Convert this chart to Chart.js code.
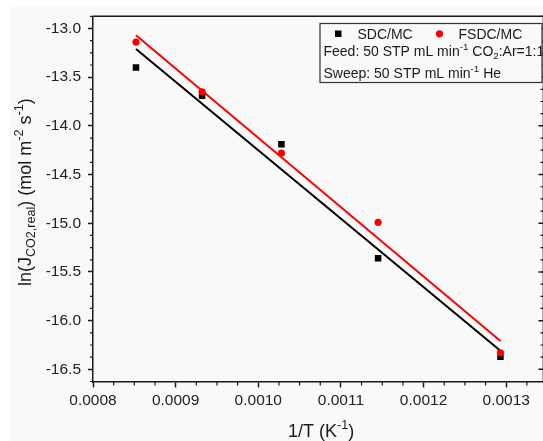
<!DOCTYPE html>
<html>
<head>
<meta charset="utf-8">
<script src="https://cdn.jsdelivr.net/npm/chart.js@4"></script>
<style>
  html, body { margin: 0; padding: 0; background: #fff; overflow: hidden; }
  canvas { display: block; }
</style>
</head>
<body>
<canvas id="arrhenius" width="548" height="441"></canvas>
<script>
// values
const invT = [0.000852, 0.000932, 0.001028, 0.001145, 0.001293];
const lnJ_SDC = [-13.40, -13.69, -14.19, -15.36, -16.37];
const lnJ_FSDC = [-13.14, -13.65, -14.28, -14.99, -16.33];

// linear fit lines, end points as drawn
const fitX = [0.000852, 0.001293];
const fitSDC = [-13.21, -16.31];
const fitFSDC = [-13.07, -16.21];

const xTicks = [0.0008, 0.0009, 0.0010, 0.0011, 0.0012, 0.0013];
const yTicks = [-13.0, -13.5, -14.0, -14.5, -15.0, -15.5, -16.0, -16.5];

const FONT = "'Liberation Sans', Arial, sans-serif";
const INK = "#1a1a1a";
const BG = "#f9f9f9";

function pts(xs, ys) {
  return xs.map((x, i) => ({ x: x, y: ys[i] }));
}

// draw text with sub/superscripts, parts = [[text, "n"|"sub"|"sup"], ...]
function richWidth(ctx, parts, size) {
  let w = 0;
  parts.forEach(([t, k]) => {
    const s = k === "n" ? size : size * 0.7;
    ctx.font = `${s}px ${FONT}`;
    w += ctx.measureText(t).width;
  });
  return w;
}

function drawRich(ctx, parts, x, y, size) {
  ctx.textAlign = "left";
  ctx.textBaseline = "alphabetic";
  parts.forEach(([t, k]) => {
    const s = k === "n" ? size : size * 0.7;
    let dy = 0;
    if (k === "sub") dy = size * 0.22;
    if (k === "sup") dy = -size * 0.42;
    ctx.font = `${s}px ${FONT}`;
    ctx.fillText(t, x, y + dy);
    x += ctx.measureText(t).width;
  });
}

const backdrop = {
  id: "backdrop",
  beforeDraw(chart) {
    const ctx = chart.ctx;
    ctx.save();
    ctx.fillStyle = "#ffffff";
    ctx.fillRect(0, 0, chart.width, chart.height);
    ctx.fillStyle = BG;
    ctx.fillRect(10, 7, chart.width - 10, chart.height - 7);
    ctx.restore();
  }
};

const frame = {
  id: "frame",
  afterDraw(chart) {
    const ctx = chart.ctx;
    const a = chart.chartArea;
    const xs = chart.scales.x;
    const ys = chart.scales.y;
    ctx.save();
    ctx.strokeStyle = INK;
    ctx.lineWidth = 1.5;

    // top and right borders
    ctx.beginPath();
    ctx.moveTo(a.left, a.top);
    ctx.lineTo(a.right, a.top);
    ctx.lineTo(a.right, a.bottom);
    ctx.stroke();

    // minor ticks
    ctx.lineWidth = 1.2;
    ctx.beginPath();
    for (let i = 0; i < xTicks.length; i++) {
      for (let k = 1; k < 4; k++) {
        const v = xTicks[i] + k * 0.000025;
        if (v > xs.max) break;
        const px = xs.getPixelForValue(v);
        ctx.moveTo(px, a.bottom);
        ctx.lineTo(px, a.bottom + 3.5);
      }
    }
    for (let i = 0; i < yTicks.length; i++) {
      for (let k = -3; k < 4; k++) {
        if (k === 0) continue;
        const v = yTicks[i] + k * 0.125;
        if (v > ys.max || v < ys.min) continue;
        const py = ys.getPixelForValue(v);
        ctx.moveTo(a.left, py);
        ctx.lineTo(a.left - 3, py);
        ctx.moveTo(a.right, py);
        ctx.lineTo(a.right - 3, py);
      }
    }
    ctx.stroke();

    // right axis major ticks, pointing in
    ctx.lineWidth = 1.5;
    ctx.beginPath();
    yTicks.forEach(v => {
      const py = ys.getPixelForValue(v);
      ctx.moveTo(a.right, py);
      ctx.lineTo(a.right - 5, py);
    });
    ctx.stroke();

    // axis titles
    ctx.fillStyle = INK;
    const xt = [["1/T (K", "n"], ["-1", "sup"], [")", "n"]];
    const xw = richWidth(ctx, xt, 18);
    drawRich(ctx, xt, (a.left + a.right) / 2 + 3 - xw / 2, 437, 18);

    const yt = [["ln(J", "n"], ["CO2,real", "sub"], [") (mol m", "n"], ["-2", "sup"],
                [" s", "n"], ["-1", "sup"], [")", "n"]];
    const yw = richWidth(ctx, yt, 18);
    ctx.save();
    ctx.translate(31, (a.top + a.bottom) / 2 - 7);
    ctx.rotate(-Math.PI / 2);
    drawRich(ctx, yt, -yw / 2, 0, 18);
    ctx.restore();

    // legend box
    const bx = 320, by = 23.5, bw = 222, bh = 59;
    ctx.fillStyle = BG;
    ctx.fillRect(bx, by, bw, bh);
    ctx.strokeStyle = "#333";
    ctx.lineWidth = 1.2;
    ctx.strokeRect(bx, by, bw, bh);

    ctx.fillStyle = "#000";
    ctx.fillRect(335, 30.5, 6.5, 6.5);
    ctx.fillStyle = "#ff0000";
    ctx.beginPath();
    ctx.arc(439.5, 33.8, 3.6, 0, Math.PI * 2);
    ctx.fill();

    ctx.fillStyle = INK;
    drawRich(ctx, [["SDC/MC", "n"]], 357.5, 38.8, 14);
    drawRich(ctx, [["FSDC/MC", "n"]], 458.5, 38.8, 14);
    drawRich(ctx, [["Feed: 50 STP mL min", "n"], ["-1", "sup"], [" CO", "n"], ["2", "sub"],
                   [":Ar=1:1", "n"]], 323.5, 56, 14);
    drawRich(ctx, [["Sweep: 50 STP mL min", "n"], ["-1", "sup"], [" He", "n"]], 323.5, 77.5, 14);
    ctx.restore();
  }
};

const chart = new Chart(document.getElementById("arrhenius"), {
  type: "scatter",
  data: {
    datasets: [
      {
        label: "FSDC/MC",
        data: pts(invT, lnJ_FSDC),
        pointStyle: "circle",
        pointRadius: 3.6,
        pointHoverRadius: 3.6,
        backgroundColor: "#ff0000",
        borderColor: "#ff0000",
        borderWidth: 0,
        order: 0
      },
      {
        label: "SDC/MC",
        data: pts(invT, lnJ_SDC),
        pointStyle: "rect",
        pointRadius: 4.6,
        pointHoverRadius: 4.6,
        backgroundColor: "#000",
        borderColor: "#000",
        borderWidth: 0,
        order: 1
      },
      {
        label: "FSDC/MC fit",
        type: "line",
        data: pts(fitX, fitFSDC),
        borderColor: "#ff0000",
        borderWidth: 2,
        pointRadius: 0,
        fill: false,
        order: 2
      },
      {
        label: "SDC/MC fit",
        type: "line",
        data: pts(fitX, fitSDC),
        borderColor: "#000",
        borderWidth: 2,
        pointRadius: 0,
        fill: false,
        order: 3
      }
    ]
  },
  options: {
    responsive: false,
    animation: false,
    layout: { padding: { top: 14.5, right: 3, left: 0, bottom: 0 } },
    plugins: {
      legend: { display: false },
      tooltip: { enabled: false }
    },
    scales: {
      x: {
        type: "linear",
        position: "bottom",
        min: 0.0008,
        max: 0.001345,
        afterBuildTicks: s => { s.ticks = xTicks.map(v => ({ value: v })); },
        afterFit: s => { s.height = 59; },
        ticks: {
          callback: v => v.toFixed(4),
          font: { family: FONT, size: 15.5 },
          color: "#222",
          padding: 4,
          maxRotation: 0,
          autoSkip: false
        },
        grid: { drawOnChartArea: false, tickLength: 5.5, color: INK, tickWidth: 1.5 },
        border: { display: true, color: INK, width: 1.5 }
      },
      y: {
        type: "linear",
        position: "left",
        min: -16.63,
        max: -12.875,
        afterBuildTicks: s => { s.ticks = yTicks.map(v => ({ value: v })); },
        afterFit: s => { s.width = 93; },
        ticks: {
          callback: v => v.toFixed(1),
          font: { family: FONT, size: 15.5 },
          color: "#222",
          padding: 7
        },
        grid: { drawOnChartArea: false, tickLength: 5, color: INK, tickWidth: 1.5 },
        border: { display: true, color: INK, width: 1.5 }
      }
    }
  },
  plugins: [backdrop, frame]
});
</script>
</body>
</html>
